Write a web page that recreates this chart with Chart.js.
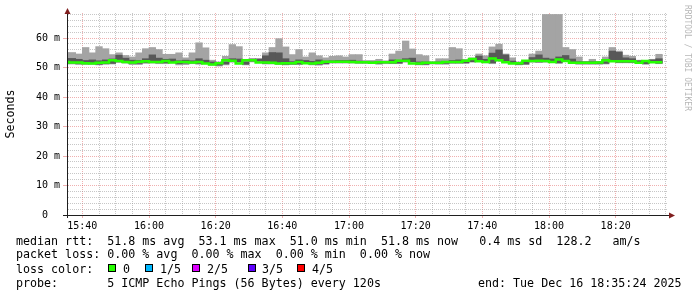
<!DOCTYPE html>
<html>
<head>
<meta charset="utf-8">
<script src="https://cdn.jsdelivr.net/npm/chart.js@4.4.1/dist/chart.umd.min.js"></script>
<style>
  html, body { margin: 0; background: #fff; }
  #wrap { position: relative; width: 697px; height: 297px; background: #fff; overflow: hidden; }
  #chart { position: absolute; left: 0; top: 0; }
  .txt { position: absolute; font: 11.67px 'DejaVu Sans Mono', monospace; line-height: 14px; white-space: pre; color: #000; }
  .box { position: absolute; width: 6px; height: 6px; border: 1px solid #000; }
</style>
</head>
<body>
<div id="wrap">
  <canvas id="chart" width="697" height="297"></canvas>
  <div class="txt" style="left:16px; top:234px">median rtt:  51.8 ms avg  53.1 ms max  51.0 ms min  51.8 ms now   0.4 ms sd  128.2   am/s</div>
  <div class="txt" style="left:16px; top:247px">packet loss: 0.00 % avg  0.00 % max  0.00 % min  0.00 % now</div>
  <div class="txt" style="left:16px; top:262px">loss color:</div>
  <div class="txt" style="left:16px; top:276px">probe:       5 ICMP Echo Pings (56 Bytes) every 120s</div>
  <div class="txt" style="left:478px; top:276px">end: Tue Dec 16 18:35:24 2025</div>
</div>
<script>
// graph window: 3 hours ending 18:35:24, one sample every 120 s
const graphStart = '15:35:24';
const firstStepStart = '15:34:00';
const spanMinutes = 180;
const stepMinutes = 2;

const timeLabels = ['15:40', '16:00', '16:20', '16:40', '17:00', '17:20', '17:40', '18:00', '18:20'];
const yTickValues = [0, 10, 20, 30, 40, 50, 60];
const yTickLabels = ['0', '10 m', '20 m', '30 m', '40 m', '50 m', '60 m'];

// rtt of the 5 sorted pings per step (ms)
const pingMin = [
  51.2,
  51.2, 51.0, 51.0, 51.1, 50.9, 51.1, 51.2, 51.7, 51.5, 51.0,
  51.0, 51.4, 51.5, 51.3, 51.3, 51.6, 50.9, 51.0, 51.3, 51.1,
  51.3, 50.8, 50.5, 50.9, 51.8, 51.7, 50.9, 51.9, 51.9, 51.2,
  51.2, 51.0, 50.9, 51.0, 51.0, 51.4, 50.9, 50.8, 51.1, 51.5,
  51.5, 51.5, 51.5, 51.4, 51.4, 51.4, 51.1, 51.3, 51.3, 51.3,
  51.8, 51.8, 50.9, 50.9, 51.2, 51.1, 51.1, 51.4, 51.4, 51.4,
  51.8, 52.3, 51.6, 51.3, 52.4, 51.9, 51.3, 50.9, 51.0, 51.8,
  51.7, 51.8, 51.7, 51.4, 52.2, 51.7, 51.1, 51.1, 51.1, 51.1,
  51.2, 52.0, 51.6, 51.6, 51.6, 51.6, 51.1, 51.7, 51.3
];
const pingQ1 = [
  51.5,
  51.5, 51.4, 51.4, 51.3, 51.1, 51.3, 51.4, 52.0, 51.8, 51.5,
  51.4, 51.7, 51.8, 51.6, 51.6, 51.9, 51.3, 51.5, 51.6, 51.4,
  51.6, 51.1, 50.8, 51.2, 52.1, 52.0, 51.1, 52.2, 52.2, 51.4,
  51.4, 51.3, 51.1, 51.2, 51.2, 51.6, 51.2, 51.1, 51.3, 51.7,
  51.7, 51.7, 51.8, 51.6, 51.6, 51.6, 51.4, 51.6, 51.5, 51.5,
  52.0, 52.0, 51.1, 51.1, 51.4, 51.4, 51.4, 51.6, 51.6, 51.6,
  52.0, 52.6, 51.8, 51.6, 52.7, 52.2, 51.5, 51.1, 51.2, 52.0,
  51.9, 52.0, 51.9, 51.6, 52.4, 51.9, 51.3, 51.3, 51.3, 51.3,
  51.4, 52.2, 51.8, 51.8, 51.8, 51.8, 51.3, 51.9, 51.5
];
const pingMedian = [
  51.9,
  51.9, 51.7, 51.7, 51.5, 51.4, 51.6, 51.7, 52.5, 52.2, 51.9,
  51.7, 52.0, 52.1, 51.9, 51.9, 52.2, 51.7, 51.9, 51.9, 51.7,
  51.9, 51.4, 51.0, 51.5, 52.5, 52.3, 51.4, 52.5, 52.5, 51.7,
  51.7, 51.6, 51.4, 51.5, 51.5, 51.9, 51.5, 51.4, 51.6, 52.0,
  52.0, 52.0, 52.0, 51.9, 51.8, 51.8, 51.6, 51.8, 51.8, 51.8,
  52.3, 52.3, 51.4, 51.4, 51.6, 51.6, 51.6, 51.9, 51.9, 51.9,
  52.3, 52.9, 52.1, 51.9, 53.1, 52.5, 51.8, 51.4, 51.5, 52.3,
  52.2, 52.3, 52.2, 51.9, 52.7, 52.2, 51.6, 51.6, 51.6, 51.6,
  51.7, 52.5, 52.1, 52.1, 52.1, 52.1, 51.6, 52.2, 51.8
];
const pingQ3 = [
  53.1,
  53.1, 52.8, 52.4, 52.6, 52.3, 52.6, 52.9, 54.2, 53.2, 52.5,
  52.4, 53.0, 54.3, 53.2, 52.8, 52.9, 52.3, 52.5, 52.3, 53.0,
  52.5, 51.9, 51.6, 51.9, 53.0, 52.9, 51.9, 52.9, 52.9, 54.0,
  55.1, 55.0, 53.0, 52.0, 52.6, 52.4, 52.1, 52.6, 52.2, 52.3,
  52.4, 52.4, 52.5, 52.2, 51.9, 51.9, 52.0, 52.1, 52.6, 52.5,
  53.0, 53.2, 51.9, 51.9, 51.7, 51.9, 51.9, 52.4, 52.6, 52.4,
  52.9, 53.9, 52.8, 54.9, 56.0, 54.3, 52.2, 51.7, 51.8, 53.4,
  54.3, 53.2, 52.9, 53.6, 54.1, 52.9, 52.0, 51.9, 52.0, 51.9,
  52.0, 55.6, 55.2, 53.3, 53.0, 52.3, 51.8, 52.6, 53.0
];
const pingMax = [
  55.1,
  55.1, 54.6, 56.8, 55.0, 57.1, 56.4, 54.4, 55.0, 54.1, 53.6,
  55.0, 56.4, 56.8, 56.1, 54.5, 54.5, 55.0, 53.3, 55.0, 58.4,
  56.7, 52.5, 51.9, 53.8, 57.8, 57.1, 52.8, 53.0, 53.0, 55.0,
  56.8, 59.8, 57.0, 54.4, 56.1, 53.6, 55.0, 54.0, 53.3, 53.8,
  54.0, 53.6, 54.4, 54.4, 52.4, 52.4, 52.8, 52.3, 54.6, 55.6,
  59.0, 56.3, 54.4, 54.0, 52.0, 53.0, 53.0, 56.8, 56.4, 52.8,
  53.3, 54.6, 54.0, 57.0, 57.9, 54.6, 53.3, 51.9, 52.0, 54.6,
  55.6, 68.0, 68.0, 68.0, 56.8, 56.1, 53.6, 52.1, 52.8, 52.1,
  53.6, 56.8, 55.6, 54.2, 53.8, 52.5, 51.9, 52.8, 54.5
];

const lossLabels = ['0', '1/5', '2/5', '3/5', '4/5'];
const lossColors = ['#26ff00', '#00b8ff', '#dd00ff', '#5e00ff', '#ff0000'];

const minorGrid = 'rgba(143,143,143,0.5)';
const majorGrid = 'rgba(222,79,79,0.45)';
const mono = 'DejaVu Sans Mono';

function toMinutes(s) {
  const p = s.split(':').map(Number);
  return p[0] * 60 + p[1] + (p[2] || 0) / 60;
}
const t0 = toMinutes(graphStart);
const s0 = toMinutes(firstStepStart) - t0;
const majorX = timeLabels.map(l => toMinutes(l) - t0);

// gray lines every 5 minutes, red + label every 20
const xTicks = [];
for (let v = majorX[0]; v <= spanMinutes; v += 5) xTicks.push(v);
const yTicks = [];
for (let v = 0; v <= 68; v += 2) yTicks.push(v);

function xLabel(v) {
  const k = majorX.findIndex(m => Math.abs(m - v) < 0.01);
  return k < 0 ? '' : timeLabels[k];
}
function isMajorX(v) { return majorX.some(m => Math.abs(m - v) < 0.01); }
function yLabel(v) {
  const k = yTickValues.indexOf(v);
  if (k < 0) return '';
  return yTickLabels[k].length < 4 ? yTickLabels[k] + '  ' : yTickLabels[k];
}

const centers = pingMedian.map((_, i) => s0 + i * stepMinutes + stepMinutes / 2);
const outerBand = pingMin.map((v, i) => ({ x: centers[i], y: [v, pingMax[i]] }));
const innerBand = pingQ1.map((v, i) => ({ x: centers[i], y: [v, pingQ3[i]] }));
const medianLine = pingMedian.map((v, i) => ({ x: s0 + i * stepMinutes, y: v }));
medianLine.push({ x: s0 + pingMedian.length * stepMinutes, y: pingMedian[pingMedian.length - 1] });

// arrows, axis stubs and the rrdtool watermark
const rrdDecor = {
  id: 'rrdDecor',
  afterDraw(chart) {
    const { ctx, chartArea: a } = chart;
    ctx.save();
    ctx.strokeStyle = '#1f1f1f';
    ctx.lineWidth = 1;
    ctx.beginPath();
    ctx.moveTo(a.left - 4, a.bottom + 0.5);
    ctx.lineTo(a.right + 3, a.bottom + 0.5);
    ctx.moveTo(a.left + 0.5, a.bottom + 3);
    ctx.lineTo(a.left + 0.5, a.top);
    ctx.stroke();

    ctx.fillStyle = '#801f1f';
    ctx.beginPath();
    ctx.moveTo(a.left + 0.5, a.top - 5);
    ctx.lineTo(a.left - 2.5, a.top + 1);
    ctx.lineTo(a.left + 3.5, a.top + 1);
    ctx.closePath();
    ctx.fill();
    ctx.beginPath();
    ctx.moveTo(a.right + 8, a.bottom + 0.5);
    ctx.lineTo(a.right + 2, a.bottom - 2.5);
    ctx.lineTo(a.right + 2, a.bottom + 3.5);
    ctx.closePath();
    ctx.fill();

    ctx.translate(687.5, 5);
    ctx.rotate(Math.PI / 2);
    ctx.font = '8px "' + mono + '"';
    ctx.fillStyle = 'rgba(0,0,0,0.3)';
    ctx.textBaseline = 'middle';
    ctx.fillText('RRDTOOL / TOBI OETIKER', 0, 0);
    ctx.restore();
  }
};

Chart.defaults.font.family = mono;

new Chart(document.getElementById('chart'), {
  type: 'bar',
  data: {
    datasets: [
      {
        type: 'line',
        label: 'median rtt',
        data: medianLine,
        borderColor: lossColors[0],
        borderWidth: 2.5,
        stepped: 'after',
        pointRadius: 0,
        fill: false,
        order: 0,
        clip: 0
      },
      {
        label: 'ping 2-4',
        data: innerBand,
        backgroundColor: '#585858',
        grouped: false,
        barPercentage: 1,
        categoryPercentage: 1,
        order: 1,
        clip: 0
      },
      {
        label: 'ping 1-5',
        data: outerBand,
        backgroundColor: '#a4a4a4',
        grouped: false,
        barPercentage: 1,
        categoryPercentage: 1,
        order: 2,
        clip: 0
      }
    ]
  },
  options: {
    responsive: false,
    animation: false,
    events: [],
    layout: { padding: { top: 13, right: 30, left: 0, bottom: 0 } },
    plugins: {
      legend: { display: false },
      tooltip: { enabled: false }
    },
    scales: {
      x: {
        type: 'linear',
        min: 0,
        max: spanMinutes,
        offset: false,
        afterBuildTicks: s => { s.ticks = xTicks.map(v => ({ value: v })); },
        afterFit: s => { s.height = 82; },
        grid: {
          offset: false,
          color: c => (c.tick && isMajorX(c.tick.value)) ? majorGrid : minorGrid,
          tickLength: 3,
          tickColor: c => (c.tick && isMajorX(c.tick.value)) ? majorGrid : 'rgba(0,0,0,0)'
        },
        border: { color: '#1f1f1f', width: 1, dash: [1, 1] },
        ticks: {
          autoSkip: false,
          maxRotation: 0,
          padding: 2,
          color: '#000',
          font: { family: mono, size: 10 },
          callback: v => xLabel(v)
        }
      },
      y: {
        min: 0,
        max: 68.5,
        afterBuildTicks: s => { s.ticks = yTicks.map(v => ({ value: v })); },
        afterFit: s => { s.width = 67; },
        grid: {
          color: c => (c.tick && c.tick.value % 10 === 0) ? majorGrid : minorGrid,
          tickLength: 4,
          tickColor: c => (c.tick && c.tick.value % 10 === 0) ? majorGrid : 'rgba(0,0,0,0)'
        },
        border: { color: '#1f1f1f', width: 1, dash: [1, 1] },
        ticks: {
          autoSkip: false,
          padding: 3,
          color: '#000',
          font: { family: mono, size: 10 },
          callback: v => yLabel(v)
        },
        title: {
          display: true,
          text: 'Seconds',
          color: '#000',
          font: { family: mono, size: 11.67 },
          padding: { top: 4, bottom: 0 }
        }
      }
    }
  },
  plugins: [rrdDecor]
});

// loss colour legend boxes
const wrap = document.getElementById('wrap');
const boxLeft = [108, 145, 192, 248, 297];
const textLeft = [123, 160, 207, 262, 312];
lossLabels.forEach((l, i) => {
  const b = document.createElement('span');
  b.className = 'box';
  b.style.left = boxLeft[i] + 'px';
  b.style.top = '264px';
  b.style.background = lossColors[i];
  wrap.appendChild(b);
  const t = document.createElement('span');
  t.className = 'txt';
  t.style.left = textLeft[i] + 'px';
  t.style.top = '262px';
  t.textContent = l;
  wrap.appendChild(t);
});
</script>
</body>
</html>
